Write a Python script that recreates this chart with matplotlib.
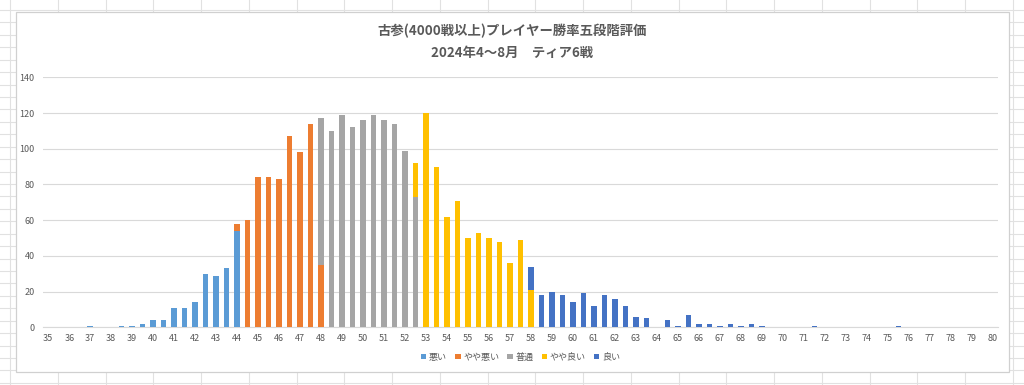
import matplotlib
matplotlib.use("Agg")
import matplotlib.pyplot as plt
from matplotlib.lines import Line2D
from matplotlib.patches import Rectangle
import numpy as np

plt.rcParams['font.family'] = ['Noto Sans CJK JP', 'DejaVu Sans']

# ---- data ----
categories = [35 + 0.5 * i for i in range(91)]   # win-rate bins 35.0 .. 80.0
tick_labels = [str(v) for v in range(35, 81)]

series_names = ["悪い", "やや悪い", "普通", "やや良い", "良い"]
series_colors = ["#5B9BD5", "#ED7D31", "#A5A5A5", "#FFC000", "#4472C4"]

bad = {37: 1, 38.5: 1, 39: 1, 39.5: 2, 40: 4, 40.5: 4, 41: 11, 41.5: 11,
       42: 14, 42.5: 30, 43: 29, 43.5: 33, 44: 54}
slightly_bad = {44: 4, 44.5: 60, 45: 84, 45.5: 84, 46: 83, 46.5: 107,
                47: 98, 47.5: 114, 48: 35}
average = {48: 82, 48.5: 110, 49: 119, 49.5: 112, 50: 116, 50.5: 119,
           51: 116, 51.5: 114, 52: 99, 52.5: 73}
slightly_good = {52.5: 19, 53: 120, 53.5: 90, 54: 62, 54.5: 71, 55: 50,
                 55.5: 53, 56: 50, 56.5: 48, 57: 36, 57.5: 49, 58: 21}
good = {58: 13, 58.5: 18, 59: 20, 59.5: 18, 60: 14, 60.5: 19, 61: 12,
        61.5: 18, 62: 16, 62.5: 12, 63: 6, 63.5: 5, 64.5: 4, 65: 1,
        65.5: 7, 66: 2, 66.5: 2, 67: 1, 67.5: 2, 68: 1, 68.5: 2, 69: 1,
        71.5: 1, 75.5: 1}

title1 = "古参(4000戦以上)プレイヤー勝率五段階評価"
title2 = "2024年4～8月　ティア6戦"

# ---- figure ----
W, H = 1024, 385
fig = plt.figure(figsize=(W / 100, H / 100), dpi=100)
fig.patch.set_facecolor("white")

# spreadsheet cell grid in the background
grid_c = "#E1E1E1"
x = 10.0
while x < W:
    fig.add_artist(Line2D([x / W, x / W], [0, 1], color=grid_c, lw=0.8, zorder=0))
    x += 47.75
y = 10.0
while y < H:
    fig.add_artist(Line2D([0, 1], [1 - y / H, 1 - y / H], color=grid_c, lw=0.8, zorder=0))
    y += 12.43

# chart area box
fig.add_artist(Rectangle((16 / W, 1 - 372 / H), (1009 - 16) / W, (372 - 12) / H,
                         facecolor="white", edgecolor="#D0D0D0", lw=0.9, zorder=1))

ax = fig.add_axes([43 / W, 1 - 327.3 / H, (998 - 43) / W, (327.3 - 77.3) / H], zorder=2)
ax.set_facecolor("none")

xpos = np.arange(len(categories))
bottom = np.zeros(len(categories))
for name, color, d in zip(series_names, series_colors,
                          [bad, slightly_bad, average, slightly_good, good]):
    vals = np.array([d.get(c, 0) for c in categories], dtype=float)
    ax.bar(xpos, vals, width=0.52, bottom=bottom, color=color, label=name,
           zorder=3, linewidth=0)
    bottom += vals

ax.set_xlim(-0.5, len(categories) - 0.5)
ax.set_ylim(0, 140)
ax.set_yticks(range(0, 141, 20))
ax.yaxis.grid(True, color="#D9D9D9", lw=0.8, zorder=0)
ax.set_axisbelow(True)

int_pos = [i for i, c in enumerate(categories) if float(c).is_integer()]
ax.set_xticks(int_pos)
ax.set_xticklabels(tick_labels)
ax.tick_params(axis="both", length=0, labelsize=6.5, colors="#595959")
ax.tick_params(axis="x", pad=5)
ax.tick_params(axis="y", pad=6)
for s in ["top", "right", "left"]:
    ax.spines[s].set_visible(False)
ax.spines["bottom"].set_color("#D9D9D9")
ax.spines["bottom"].set_linewidth(0.8)

fig.text(0.5, 1 - 31 / H, title1, ha="center", va="center", fontsize=9.6,
         fontweight="bold", color="#595959", zorder=3)
fig.text(0.5, 1 - 53 / H, title2, ha="center", va="center", fontsize=9.6,
         fontweight="bold", color="#595959", zorder=3)

leg = ax.legend(loc="center", bbox_to_anchor=(0.5, -0.12), ncol=5, frameon=False,
                fontsize=6.5, handlelength=0.6, handleheight=0.6, handletextpad=0.3,
                columnspacing=0.9)
for t in leg.get_texts():
    t.set_color("#595959")

fig.savefig("out.png", dpi=100, facecolor="white")
